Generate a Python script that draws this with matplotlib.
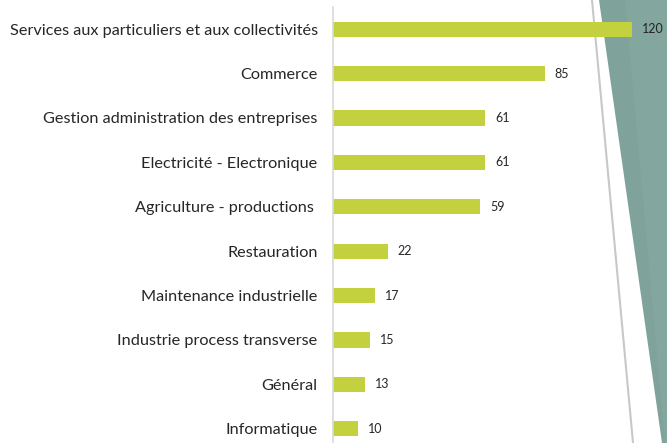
import matplotlib.pyplot as plt
from matplotlib.patches import Polygon
from matplotlib.lines import Line2D

categories = ["Services aux particuliers et aux collectivités", "Commerce",
              "Gestion administration des entreprises", "Electricité - Electronique",
              "Agriculture - productions ", "Restauration", "Maintenance industrielle",
              "Industrie process transverse", "Général", "Informatique"]
values = [120, 85, 61, 61, 59, 22, 17, 15, 13, 10]

W, H = 667, 443
fig = plt.figure(figsize=(W / 100, H / 100), dpi=100)
plt.rcParams['font.family'] = ['Lato', 'DejaVu Sans']

# background decoration on the right
def fpt(x, y):
    return (x / W, 1 - y / H)

teal = Polygon([fpt(599, 0), fpt(667, 0), fpt(667, 443), fpt(662, 443)],
               closed=True, transform=fig.transFigure, facecolor='#7fa39b',
               edgecolor='none', zorder=0)
fig.add_artist(teal)
band = Polygon([fpt(625, 0), fpt(667, 0), fpt(667, 443), fpt(665, 443)],
               closed=True, transform=fig.transFigure, facecolor='#83a69e',
               edgecolor='none', zorder=0)
fig.add_artist(band)
fig.add_artist(Line2D([592 / W, 633 / W], [1, 0], transform=fig.transFigure,
                      color='#c8c8c8', lw=1.5, zorder=0))

ax = fig.add_axes([333 / W, 0, (660 - 333) / W, 436 / H])
ax.patch.set_alpha(0)
pos = list(range(len(categories)))
ax.barh(pos, values, height=0.34, color='#c4d13f', zorder=2)
for p, v in zip(pos, values):
    ax.text(v + 4, p, str(v), va='center', ha='left', fontsize=9, color='#262626')

ax.set_xlim(0, 120 * 327 / 299)
ax.set_ylim(9.32, -0.5)
ax.set_yticks(pos)
ax.set_yticklabels(categories, fontsize=11.7, color='#262626')
ax.tick_params(axis='y', length=0, pad=11)
ax.set_xticks([])
for s in ['top', 'right', 'bottom']:
    ax.spines[s].set_visible(False)
ax.spines['left'].set_color('#d9d9d9')
ax.spines['left'].set_linewidth(1.2)

fig.savefig('out.png', dpi=100)
